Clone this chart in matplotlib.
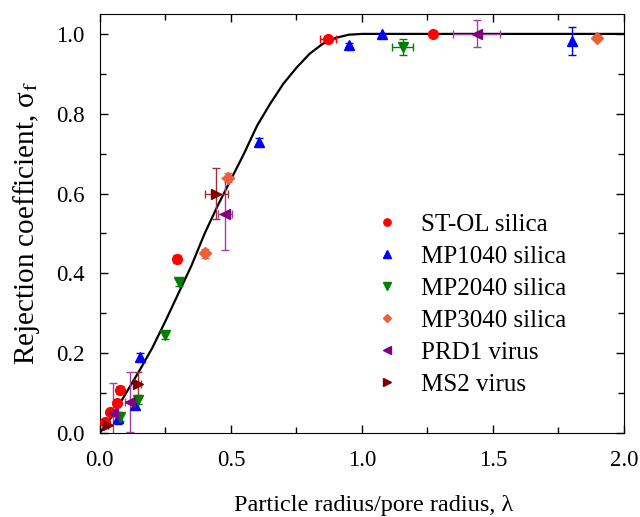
import matplotlib
matplotlib.use("Agg")
import matplotlib.pyplot as plt
from matplotlib.ticker import MultipleLocator

plt.rcParams['font.family'] = ['Liberation Serif', 'DejaVu Serif']
plt.rcParams['mathtext.fontset'] = 'stix'

# model curve
curve_x = [0, 0.05, 0.1, 0.15, 0.2, 0.25, 0.3, 0.35, 0.4, 0.45, 0.5, 0.55, 0.6,
           0.65, 0.7, 0.75, 0.8, 0.85, 0.9, 0.95, 1.0, 2.0]
curve_y = [0, 0.045, 0.10, 0.155, 0.213, 0.28, 0.35, 0.42, 0.50, 0.57, 0.635, 0.70,
           0.77, 0.825, 0.875, 0.915, 0.95, 0.975, 0.99, 0.998, 1.0, 1.0]

# ST-OL silica
stol_x = [0.019, 0.038, 0.064, 0.076, 0.293, 0.87, 1.27]
stol_y = [0.028, 0.053, 0.074, 0.107, 0.437, 0.988, 1.0]
stol_xerr = [0, 0, 0, 0.008, 0.008, 0.03, 0]
stol_yerr = [0, 0, 0, 0.01, 0.01, 0, 0]

# MP1040 silica
mp1_x = [0.07, 0.134, 0.153, 0.607, 0.95, 1.076, 1.80]
mp1_y = [0.037, 0.07, 0.19, 0.73, 0.972, 1.0, 0.983]
mp1_yerr = [0.015, 0.01, 0.01, 0.01, 0.005, 0, 0.035]

# MP2040 silica
mp2_x = [0.076, 0.146, 0.248, 0.303, 1.156]
mp2_y = [0.04, 0.083, 0.245, 0.378, 0.968]
mp2_xerr = [0, 0, 0, 0, 0.04]
mp2_yerr = [0.01, 0.01, 0.01, 0.01, 0.02]

# MP3040 silica
mp3_x = [0.40, 0.489, 1.897]
mp3_y = [0.45, 0.64, 0.99]
mp3_yerr = [0.012, 0.012, 0]

# PRD1 virus
prd_x = [0.05, 0.115, 0.477, 1.438]
prd_y = [0.05, 0.078, 0.548, 1.0]
prd_xerr = [0, 0.02, 0.027, 0.09]
prd_yerr = [0.075, 0.075, 0.09, 0.034]

# MS2 virus
ms2_x = [0.032, 0.146, 0.445]
ms2_y = [0.02, 0.124, 0.599]
ms2_xerr = [0, 0.01, 0.043]
ms2_yerr = [0, 0.03, 0.064]

fig = plt.figure(figsize=(6.4, 5.17), dpi=100)
ax = fig.add_axes([0.156, 0.1625, 0.819, 0.8105])

ax.plot(curve_x, curve_y, 'k-', lw=1.6, zorder=2)

kw = dict(linestyle='none', capsize=3, elinewidth=1, capthick=1, markersize=7, zorder=3)
ax.errorbar(stol_x, stol_y, xerr=stol_xerr, yerr=stol_yerr, fmt='o', color='#FF0000',
            label='ST-OL silica', **kw)
ax.errorbar(mp1_x, mp1_y, yerr=mp1_yerr, fmt='^', color='#0000FF',
            label='MP1040 silica', **kw)
ax.errorbar(mp2_x, mp2_y, xerr=mp2_xerr, yerr=mp2_yerr, fmt='v', color='#008000',
            label='MP2040 silica', **kw)
ax.errorbar(mp3_x, mp3_y, yerr=mp3_yerr, fmt='D', color='#E8603C',
            label='MP3040 silica', **dict(kw, markersize=6))
ax.errorbar(prd_x, prd_y, xerr=prd_xerr, yerr=prd_yerr, fmt='<', color='#800080',
            ecolor='#A040A0', label='PRD1 virus', **kw)
ax.errorbar(ms2_x, ms2_y, xerr=ms2_xerr, yerr=ms2_yerr, fmt='>', color='#800000',
            ecolor='#A03030', label='MS2 virus', **kw)

ax.set_xlim(0, 2.0)
ax.set_ylim(0, 1.05)
ax.xaxis.set_major_locator(MultipleLocator(0.5))
ax.xaxis.set_minor_locator(MultipleLocator(0.25))
ax.yaxis.set_major_locator(MultipleLocator(0.2))
ax.yaxis.set_minor_locator(MultipleLocator(0.1))
ax.tick_params(which='both', direction='in', top=True, right=True, labelsize=16.5, width=1)
ax.tick_params(which='major', length=6)
ax.tick_params(which='minor', length=4)
ax.tick_params(axis='x', pad=12)
ax.tick_params(axis='y', pad=11)
ax.xaxis.set_major_formatter(plt.FormatStrFormatter('%.1f'))
ax.yaxis.set_major_formatter(plt.FormatStrFormatter('%.1f'))

ax.set_xlabel('Particle radius/pore radius, λ', fontsize=17.5)
ax.xaxis.set_label_coords(0.523, -0.148)
ax.set_ylabel(r'Rejection coefficient, σ$_{\rm f}$', fontsize=21, labelpad=10)

handles, labels = ax.get_legend_handles_labels()
handles = [h[0] for h in handles]
ax.legend(handles, labels, loc='upper left', bbox_to_anchor=(0.482, 0.578), frameon=False,
          fontsize=18, markerscale=0.75, handlelength=1.0, handletextpad=0.85,
          labelspacing=0.38)

fig.savefig('out.png', dpi=100)
